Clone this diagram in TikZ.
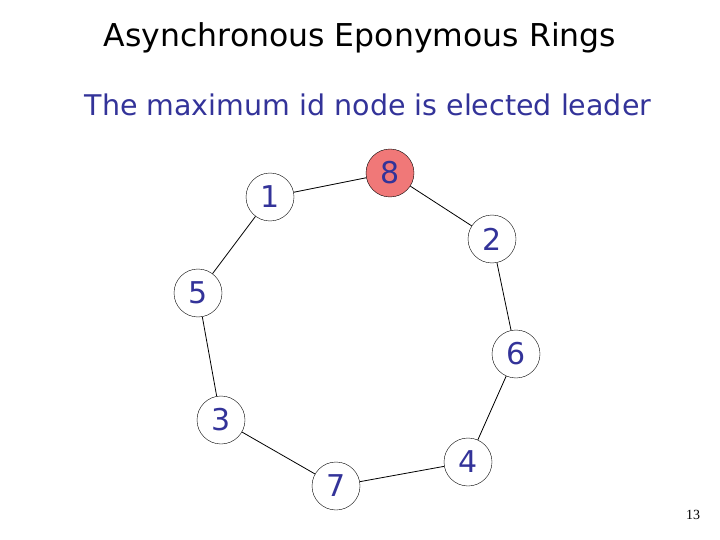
\documentclass[tikz,border=0pt]{standalone}
\usepackage{fontspec}
\setmainfont{DejaVu Sans}
\newfontfamily\pagefont{Liberation Serif}
\definecolor{txtblue}{RGB}{51,51,153}
\definecolor{salmon}{RGB}{240,120,120}
\begin{document}
\begin{tikzpicture}[x=1pt,y=-1pt,
  ringnode/.style={circle,draw=black,fill=white,minimum size=48pt,inner sep=0pt,text=txtblue,font=\fontsize{30}{34}\selectfont},
  edge/.style={draw=black,line width=0.8pt}]
\useasboundingbox (0,0) rectangle (720,540);
\node (title) at (360,38) {\fontsize{31.5}{36}\selectfont Asynchronous Eponymous Rings};
\node[text=txtblue] (sub) at (368,105) {\fontsize{28.5}{32}\selectfont The maximum id node is elected leader};
\node[ringnode] (n1) at (270,197) {1};
\node[ringnode,fill=salmon] (n8) at (390,173) {8};
\node[ringnode] (n2) at (492,239) {2};
\node[ringnode] (n6) at (516,354) {6};
\node[ringnode] (n4) at (468,462) {4};
\node[ringnode] (n7) at (336,486) {7};
\node[ringnode] (n3) at (221,420) {3};
\node[ringnode] (n5) at (198,293) {5};
\draw[edge] (n1) -- (n8);
\draw[edge] (n8) -- (n2);
\draw[edge] (n2) -- (n6);
\draw[edge] (n6) -- (n4);
\draw[edge] (n4) -- (n7);
\draw[edge] (n7) -- (n3);
\draw[edge] (n3) -- (n5);
\draw[edge] (n5) -- (n1);
\node[font=\fontsize{14}{16}\selectfont\pagefont] (page) at (693,515) {13};
\end{tikzpicture}
\end{document}
